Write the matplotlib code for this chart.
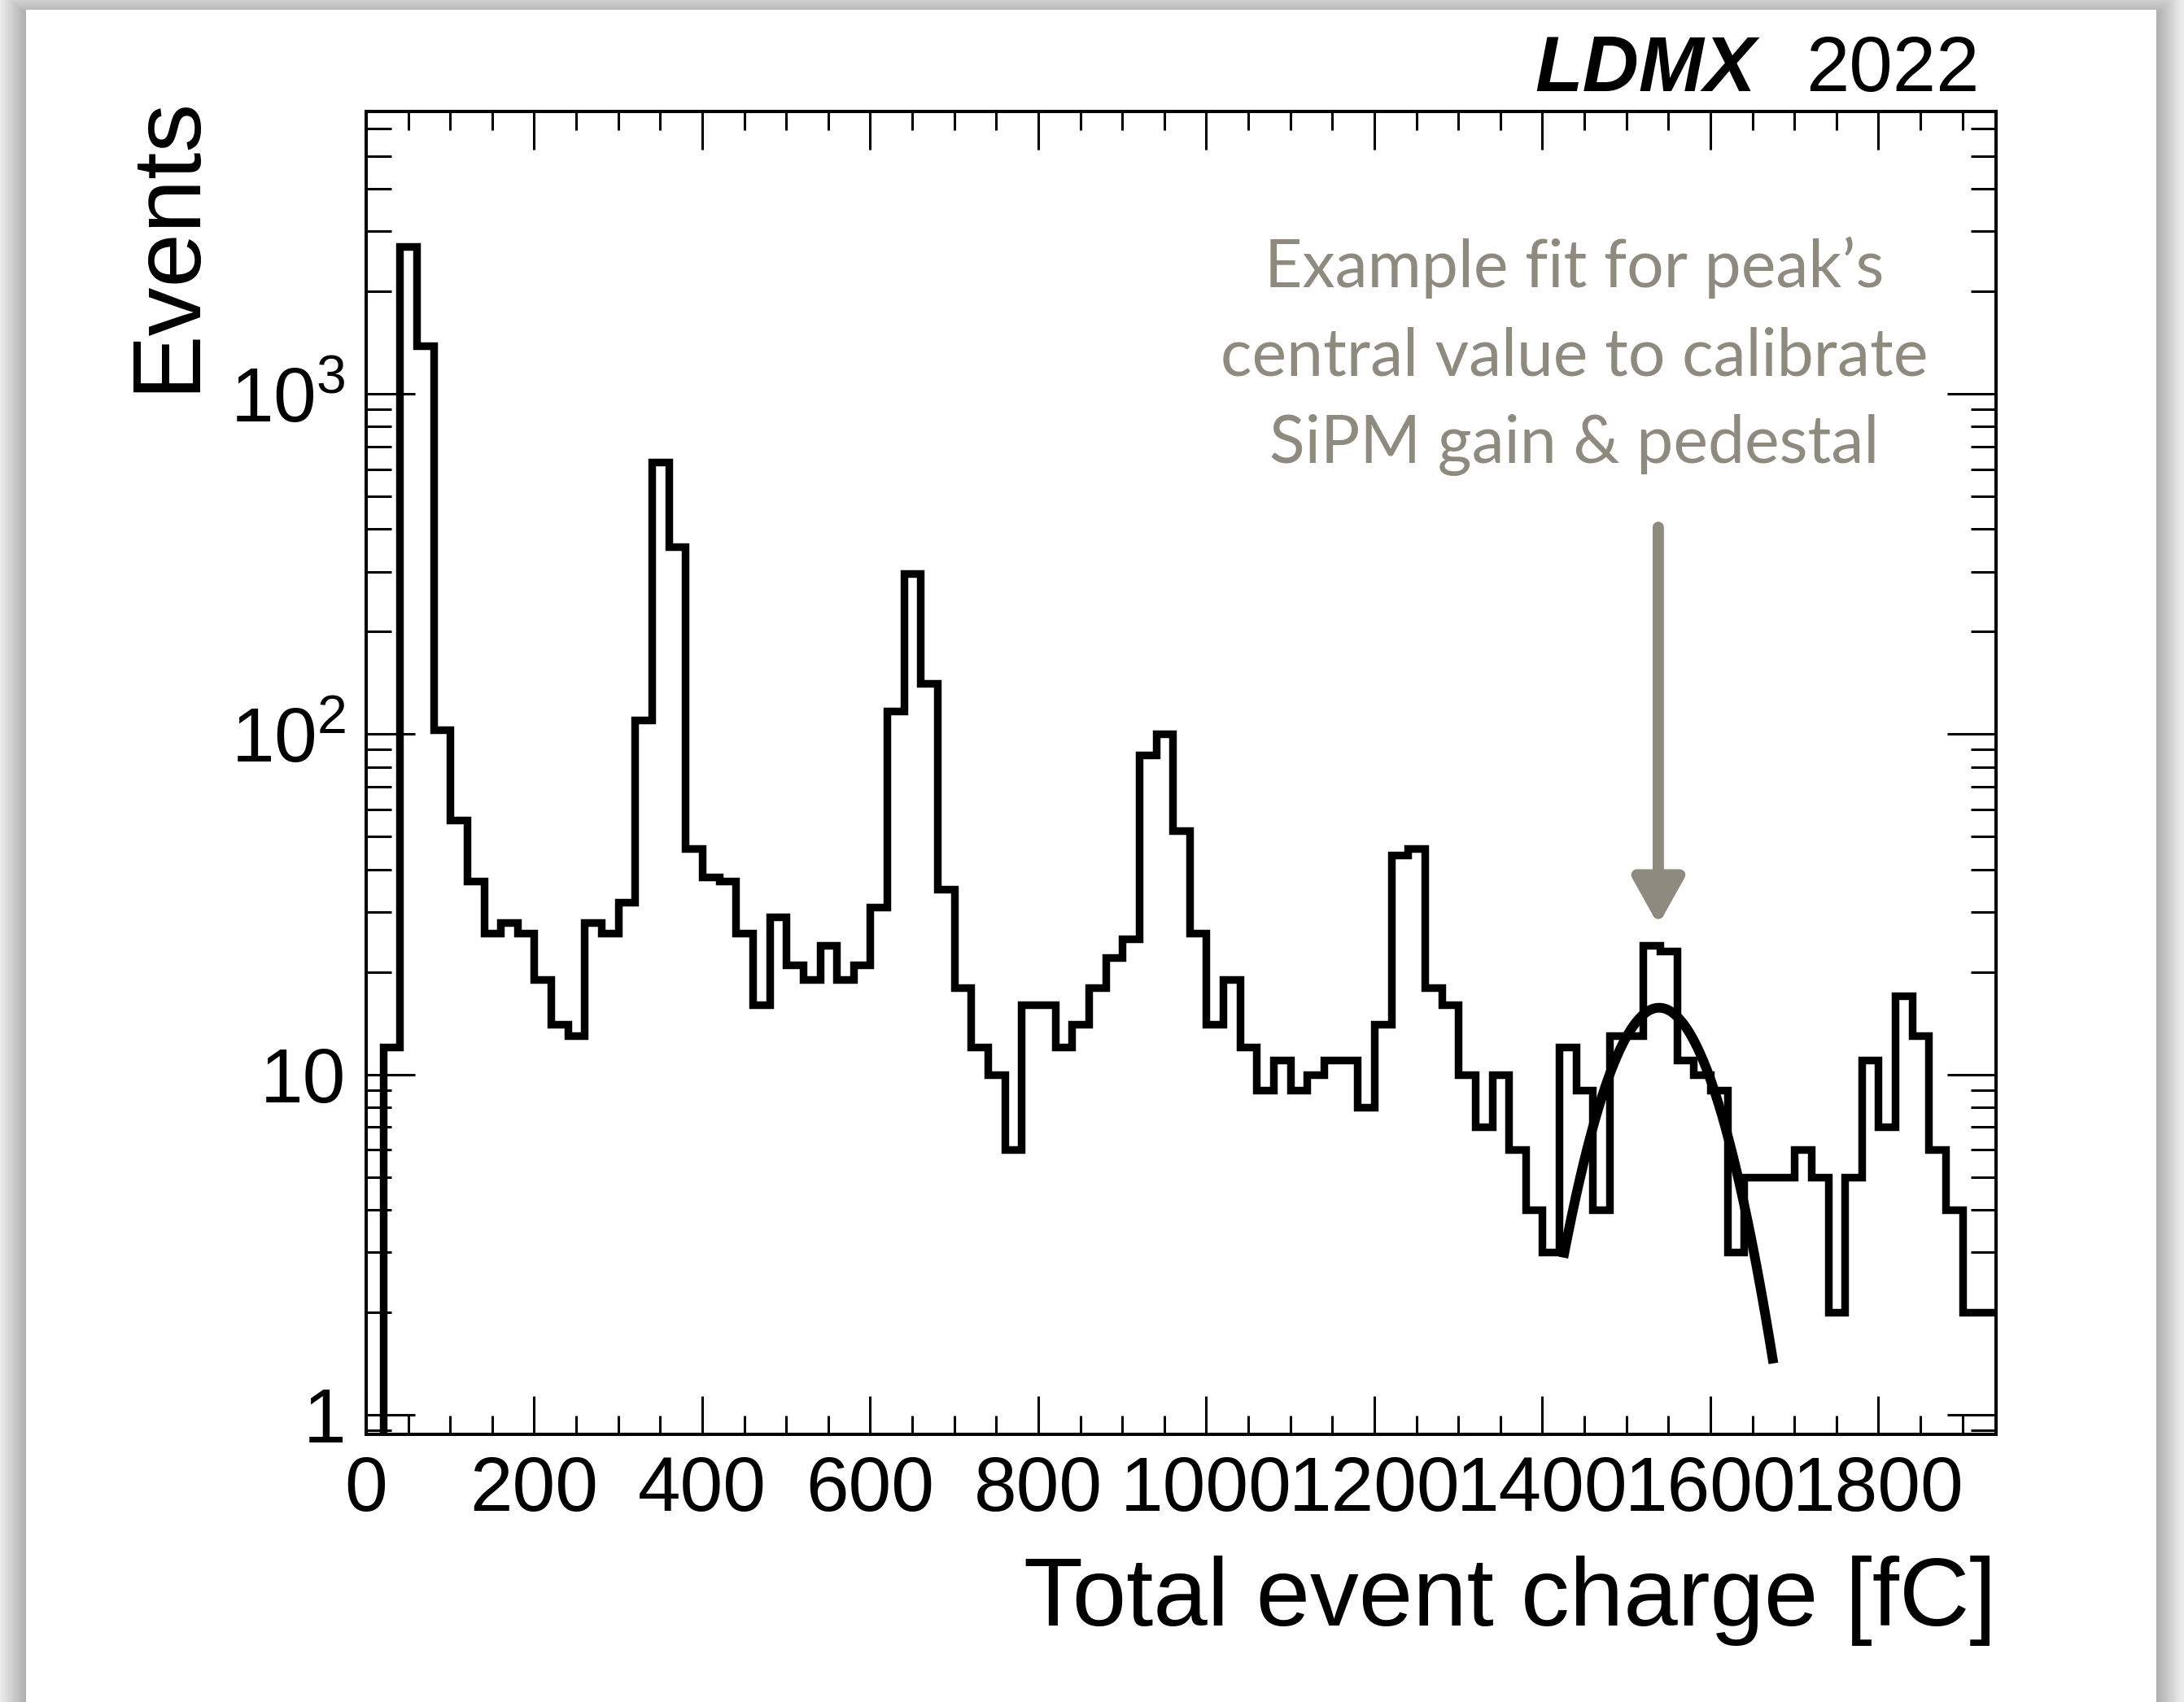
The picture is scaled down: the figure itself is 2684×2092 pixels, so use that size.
import numpy as np
import matplotlib
matplotlib.use("Agg")
import matplotlib.pyplot as plt
from matplotlib.patches import Rectangle
from matplotlib.ticker import FixedLocator, MultipleLocator, LogLocator, NullFormatter

# histogram: 20 fC bins from 0 to 1940
bin_edges = np.arange(0, 1941, 20)
counts = [0, 12, 2700, 1380, 103, 56, 37, 26, 28, 26,
          19, 14, 13, 28, 26, 32, 110, 630, 355, 46,
          38, 37, 26, 16, 29, 21, 19, 24, 19, 21,
          31, 117, 296, 141, 35, 18, 12, 10, 6, 16,
          16, 12, 14, 18, 22, 25, 87, 100, 52, 26,
          14, 19, 12, 9, 11, 9, 10, 11, 11, 8,
          14, 44, 46, 18, 16, 10, 7, 10, 6, 4,
          3, 12, 9, 4, 13, 13, 24, 23, 11, 10,
          9, 3, 5, 5, 5, 6, 5, 2, 5, 11,
          7, 17, 13, 6, 4, 2, 2]
assert len(counts) == len(bin_edges) - 1

x_ticks = [0, 200, 400, 600, 800, 1000, 1200, 1400, 1600, 1800]
x_tick_labels = [str(v) for v in x_ticks]
y_ticks = [1, 10, 100, 1000]
y_tick_labels = ["1", "10", "$10^{2}$", "$10^{3}$"]

# gaussian fit of the 5th peak
fit_amp = 15.7
fit_mean = 1539
fit_sigma = 62
fit_lo, fit_hi = 1425, 1675

arrow_x = 1538
arrow_top = 405
arrow_tip = 27.5

note_lines = ["Example fit for peak\u2019s", "central value to calibrate", "SiPM gain & pedestal"]
note_color = "#8f8a80"

plt.rcParams["font.family"] = ["Liberation Sans", "DejaVu Sans"]
plt.rcParams["mathtext.fontset"] = "custom"
plt.rcParams["mathtext.rm"] = "Liberation Sans"
plt.rcParams["mathtext.it"] = "Liberation Sans:italic"
plt.rcParams["mathtext.bf"] = "Liberation Sans:bold"

W, H = 2684, 2092
fig = plt.figure(figsize=(W / 200, H / 200), dpi=200, facecolor="#ececec")


def fx(px):
    return px / W


def fy(py):
    return 1 - py / H


# page card with soft shadow
cx0, cx1, cy0 = 32, 2650, 12
for k in range(1, 32):
    fig.patches.append(Rectangle((fx(cx0 - k), fy(H + 60)), (cx1 - cx0 + 2 * k) / W,
                                 (H + 60 - cy0 + k - 6) / H, transform=fig.transFigure,
                                 facecolor="black", alpha=0.008, edgecolor="none", zorder=0))
fig.patches.append(Rectangle((fx(cx0), fy(H + 60)), (cx1 - cx0) / W, (H + 60 - cy0) / H,
                             transform=fig.transFigure, facecolor="white",
                             edgecolor="none", zorder=1))

ax_l, ax_r, ax_t, ax_b = 450, 2453, 137, 1763
ax = fig.add_axes([fx(ax_l), fy(ax_b), (ax_r - ax_l) / W, (ax_b - ax_t) / H])
ax.set_facecolor("none")
ax.set_zorder(2)

ax.stairs(counts, bin_edges, color="black", lw=3.4, baseline=None)

xf = np.linspace(fit_lo, fit_hi, 300)
yf = fit_amp * np.exp(-0.5 * ((xf - fit_mean) / fit_sigma) ** 2)
ax.plot(xf, yf, color="black", lw=4.3, solid_capstyle="butt")

ax.annotate("", xy=(arrow_x, arrow_tip), xytext=(arrow_x, arrow_top),
            arrowprops=dict(arrowstyle="-|>,head_width=9.5,head_length=17",
                            mutation_scale=1, lw=5, color=note_color,
                            shrinkA=0, shrinkB=0))

ax.set_yscale("log")
ax.set_xlim(0, 1940)
ax.set_ylim(0.876, 6750)

ax.xaxis.set_major_locator(FixedLocator(x_ticks))
ax.set_xticklabels(x_tick_labels)
ax.xaxis.set_minor_locator(MultipleLocator(50))
ax.yaxis.set_major_locator(FixedLocator(y_ticks))
ax.set_yticklabels(y_tick_labels)
ax.yaxis.set_minor_locator(LogLocator(base=10, subs=np.arange(2, 10)))
ax.yaxis.set_minor_formatter(NullFormatter())

ax.tick_params(axis="both", which="both", direction="in", top=True, right=True,
               width=1.1, labelsize=34, colors="black")
ax.tick_params(axis="x", which="major", length=17, pad=9)
ax.tick_params(axis="x", which="minor", length=8.3)
ax.tick_params(axis="y", which="major", length=21.6, pad=9)
ax.tick_params(axis="y", which="minor", length=11)
for s in ax.spines.values():
    s.set_linewidth(1.45)

fig.text(fx(2453), fy(1998), "Total event charge [fC]", fontsize=43,
         ha="right", va="baseline", zorder=5)
fig.text(fx(237), fy(117), "Events", fontsize=43, rotation=90,
         rotation_mode="anchor", ha="right", va="baseline", zorder=5)

fig.text(fx(2433), fy(112), "2022", fontsize=34.5, ha="right", va="baseline", zorder=5)
fig.text(fx(2158), fy(112), "LDMX", fontsize=34.5, fontweight="bold",
         fontstyle="italic", ha="right", va="baseline", zorder=5)

for i, line in enumerate(note_lines):
    fig.text(fx(1935), fy(353 + 108 * i), line, fontsize=29, color=note_color,
             family=["Lato", "DejaVu Sans"], fontweight="normal",
             ha="center", va="baseline", zorder=5)

fig.savefig("out.png", dpi=200, facecolor=fig.get_facecolor())
